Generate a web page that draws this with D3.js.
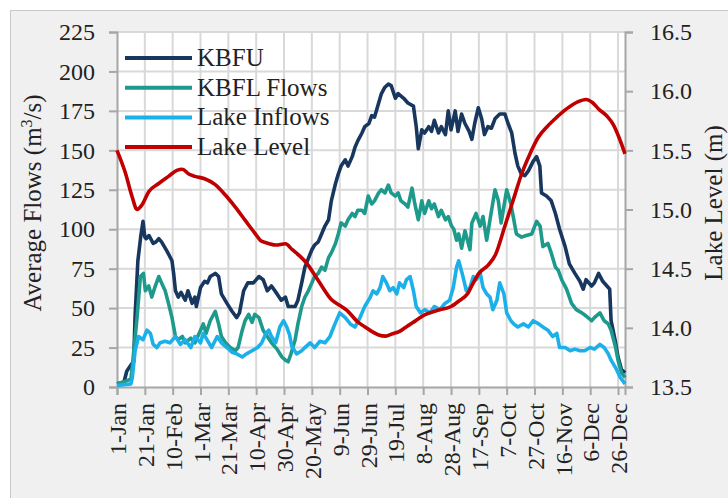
<!DOCTYPE html>
<html><head><meta charset="utf-8">
<script src="https://cdn.jsdelivr.net/npm/d3@7"></script>
<style>html,body{margin:0;padding:0;background:#fff;}svg{display:block;}text{font-family:"Liberation Serif","Times New Roman",serif;fill:#222;}</style>
</head><body><svg id="c" width="728" height="498"></svg>
<script>
const tickDays = [0,20,40,60,80,100,120,140,160,180,200,220,240,260,280,300,320,340,360];
const tickLabels = ["1-Jan","21-Jan","10-Feb","1-Mar","21-Mar","10-Apr","30-Apr","20-May","9-Jun","29-Jun","19-Jul","8-Aug","28-Aug","17-Sep","7-Oct","27-Oct","16-Nov","6-Dec","26-Dec"];
const flowTicks = [0,25,50,75,100,125,150,175,200,225];
const levelTicks = [13.5,14.0,14.5,15.0,15.5,16.0,16.5];
const seriesNames = ["KBFU","KBFL Flows","Lake Inflows","Lake Level"];

const kbfu = [[0,2],[5,3],[7,10],[10,14],[12,16],[13,45],[15,80],[17,95],[18.7,105],[20,95],[21,94],[23,96],[26,91],[28,92],[30,94],[32,92],[34,89],[36,86],[39.5,80],[40.7,72],[42,61],[44,57],[46,60],[49,55],[51,61],[54,53],[56,57],[57,51],[60,63],[63,67],[65,66],[67,70],[70.6,72],[73,70],[75,59],[79,53],[82.6,48],[86,44],[88,47],[91,61],[94,66],[98,66],[102,70],[105,68],[108,61],[111,64],[115,59],[118,55],[121,57],[123,51],[128,51],[130,55],[132.7,66],[135,76],[140,87],[142,90],[144.6,92],[147,97],[149.4,102],[152,106],[154,118],[157,129],[159,135],[161,140],[164,144],[166,140],[169,146],[171,152],[173,156],[176,161],[178,165],[181,167],[183,172],[185,171],[188,180],[190,186],[192.5,190],[195,192],[197,191],[200,183],[202,186],[206,183],[209,180],[213,178],[215,165],[216.5,151],[219,163],[221,161],[224,165],[226,162],[228,169],[231,161],[233,165],[236,160],[238,175],[240,163],[243,175],[245,162],[247.6,173],[250,167],[253,162],[255,157],[257,167],[259.6,177],[262,170],[264,160],[266.5,165],[269,164],[271.6,170],[275,173],[278.7,173],[281,167],[283.6,161],[286,148],[288,140],[290.5,135],[293,134],[295.6,137],[299,143],[301.5,146],[303.8,140],[305,123],[308.6,121],[312,118],[315,110],[318,100],[322,89],[325,78],[329,72],[332.6,67],[335,62],[337,68],[341,64],[343,66],[346,72],[349,67],[352,64],[354,62],[355,42],[357.8,30],[360,19],[362.5,11],[365,9]];

const kbfl = [[0,2],[7,4],[10,5],[11,13],[14.4,44],[16.8,70],[19,72],[20.4,61],[22.8,64],[25,57],[27.5,64],[30,70],[32,66],[34.6,61],[37,53],[39.5,44],[42,32],[44,30],[47,32],[49,28],[53,31],[56,28],[60,36],[62,40],[64,34],[67,42],[70.6,48],[73,40],[75,32],[78,28],[81.4,25],[85,23],[87,25],[90,36],[92,42],[94.6,46],[97,41],[99,46],[102,44],[105,36],[108,32],[111,28],[115,24],[118.5,19],[121,17],[123,16],[125,21],[128,30],[130,40],[132.7,51],[135,57],[137.5,61],[140,66],[142,70],[144.6,72],[147,76],[149.4,74],[152,82],[154,85],[157,91],[159,97],[161,104],[164,102],[166,106],[169,110],[171,108],[173,112],[176,112],[178,110],[180.5,121],[183,116],[185,118],[188,123],[190,125],[192.5,123],[195,128],[197,123],[200,121],[202,123],[204,118],[207,116],[209,114],[212,126],[214,116],[216.5,106],[219,118],[221,110],[224,118],[226,113],[228,116],[231,108],[233,112],[236,106],[238,108],[240.4,102],[242,100],[244,93],[245.5,97],[247.6,88],[250,99],[253.6,87],[255,104],[258,110],[261,102],[263,108],[265.6,93],[268,106],[271.6,125],[274,118],[276,104],[280,125],[283,116],[284.7,108],[287,97],[290.7,95],[294,96],[298,97],[301.5,105],[304,102],[306,89],[309.6,91],[312,85],[315,76],[317,74],[319.5,68],[323,62],[326.6,53],[330,49],[334,47],[337,45],[341,42],[343,44],[347,47],[350,42],[353,40],[355,36],[358,26],[360,17],[362.5,9],[365,6]];

const inflows = [[0,1],[10,2],[11,6],[13,23],[15.5,32],[18.7,30],[21.5,36],[24,34],[26,27],[28.7,25],[31,28],[34.6,29],[38,28],[42,32],[45.5,27],[49,30],[53,25],[56,32],[60,28],[62,34],[66,28],[68,25],[72,32],[75,28],[79,25],[82.6,22],[86,21],[90,19],[93,21],[97,23],[101,25],[104,28],[107,34],[109,36],[111,32],[114,28],[117,38],[119.7,42],[122,38],[124,33],[125.5,26],[129,21],[132.7,23],[135,25],[138.7,28],[142,25],[145.8,29],[149.4,28],[153,32],[156.6,40],[160,47],[164,44],[167.6,40],[171,38],[174.6,44],[178,51],[182,57],[184,61],[186.6,59],[189,63],[191,70],[193.6,66],[196,61],[198.5,63],[201,59],[203,66],[206,63],[208,68],[210.6,70],[213,61],[215,51],[218,47],[221,49],[225,47],[228,51],[232,49],[235.6,53],[239,55],[241.6,63],[244,76],[245.5,80],[248,72],[251,61],[253.6,63],[256,70],[258,68],[261,72],[263,63],[265.6,59],[268,57],[270,49],[273,55],[275,66],[278,59],[280,47],[283,42],[285,40],[288,38],[292,40],[295.6,38],[299,42],[303,40],[306,38],[309.6,36],[313,32],[316,34],[318,25],[322,25],[325.6,23],[329,24],[332.6,23],[336,23],[340,25],[343,24],[347,27],[350,25],[353,21],[355,17],[359,11],[361.6,6],[365,2]];

const lakeLevel = [[0,15.50],[6,15.31],[10.8,15.11],[14.4,15.0],[18,15.04],[22.8,15.15],[30,15.22],[37,15.28],[43,15.33],[47,15.34],[51.5,15.30],[56,15.28],[63,15.26],[70.6,15.21],[78,15.12],[85,15.02],[92,14.91],[99,14.80],[103,14.74],[107,14.72],[114,14.70],[121,14.71],[126,14.66],[131,14.61],[136,14.55],[144.6,14.40],[154,14.24],[160,14.19],[165,14.15],[173,14.05],[178,14.01],[183,13.97],[188,13.94],[193,13.93],[198,13.95],[203,13.97],[208,14.01],[212,14.04],[221,14.11],[231,14.15],[240,14.18],[246,14.23],[252,14.29],[256,14.38],[260,14.46],[266.7,14.53],[272,14.62],[278.7,14.86],[284.7,15.08],[290.7,15.30],[296.7,15.47],[302.7,15.61],[309,15.70],[316,15.78],[323,15.85],[331,15.91],[337,15.93],[342,15.90],[346,15.85],[352,15.79],[356.5,15.72],[361,15.60],[365,15.47]];

const colors = ["#17375e","#1e9a8c","#1cb0ea","#c00000"];

const svg = d3.select("#c");
const L = 117, R = 625, T = 32, B = 387;

svg.append("rect").attr("x",10.5).attr("y",10.5).attr("width",730).attr("height",500)
  .attr("fill","#f0f0f0").attr("stroke","#c8c8c8").attr("stroke-width",1);
svg.append("rect").attr("x",L).attr("y",T).attr("width",R-L).attr("height",B-T).attr("fill","#fff");

const x = d3.scaleLinear().domain([0,365]).range([L,R]);
const y = d3.scaleLinear().domain([0,225]).range([B,T]);
const y2 = d3.scaleLinear().domain([13.5,16.5]).range([B,T]);

const grid = svg.append("g");
grid.selectAll("line.h").data(flowTicks.slice(1)).join("line")
  .attr("x1",L).attr("x2",R).attr("y1",d=>y(d)).attr("y2",d=>y(d))
  .attr("stroke","#d9d9d9").attr("stroke-width",2);
grid.selectAll("line.v").data(tickDays.slice(1)).join("line")
  .attr("x1",d=>x(d)).attr("x2",d=>x(d)).attr("y1",T).attr("y2",B)
  .attr("stroke","#d9d9d9").attr("stroke-width",2);

// axes
const axisColor = "#a6a6a6";
const gl = svg.append("g").attr("transform",`translate(${L},0)`)
  .call(d3.axisLeft(y).tickValues(flowTicks).tickSize(8).tickPadding(14));
const gr = svg.append("g").attr("transform",`translate(${R},0)`)
  .call(d3.axisRight(y2).tickValues(levelTicks).tickSize(8).tickPadding(17).tickFormat(d3.format(".1f")));
const gb = svg.append("g").attr("transform",`translate(0,${B})`)
  .call(d3.axisBottom(x).tickValues(tickDays).tickSize(8).tickFormat((d,i)=>tickLabels[i]));
[gl,gr,gb].forEach(g=>{
  g.select(".domain").attr("stroke",axisColor).attr("stroke-width",2);
  g.selectAll(".tick line").attr("stroke",axisColor).attr("stroke-width",2);
  g.selectAll("text").attr("font-family","Liberation Serif").attr("font-size",24).attr("fill","#222");
});
gb.selectAll("text").attr("transform","rotate(-90)").attr("text-anchor","end")
  .attr("x",-16).attr("y",0).attr("dy","0.36em");

// lines
const line = d3.line().x(d=>x(d[0])).y(d=>y(d[1]));
const lineL = d3.line().x(d=>x(d[0])).y(d=>y2(d[1])).curve(d3.curveMonotoneX);
const plot = svg.append("g");
[[kbfu,0],[kbfl,1],[inflows,2]].forEach(([data,i])=>{
  plot.append("path").datum(data).attr("d",line).attr("fill","none")
    .attr("stroke",colors[i]).attr("stroke-width",3.6).attr("stroke-linejoin","round");
});
plot.append("path").datum(lakeLevel).attr("d",lineL).attr("fill","none")
  .attr("stroke",colors[3]).attr("stroke-width",3.6);

// legend
const leg = svg.append("g");
seriesNames.forEach((n,i)=>{
  const yy = 58 + i*29.7;
  leg.append("line").attr("x1",125).attr("x2",192).attr("y1",yy).attr("y2",yy)
    .attr("stroke",colors[i]).attr("stroke-width",4);
  leg.append("text").attr("x",197).attr("y",yy+8).attr("font-size",25).text(n);
});

// axis titles
const t1 = svg.append("text").attr("transform","translate(41,203) rotate(-90)")
  .attr("text-anchor","middle").attr("font-size",25);
t1.append("tspan").text("Average Flows (m");
t1.append("tspan").attr("font-size",16).attr("dy",-9).text("3");
t1.append("tspan").attr("dy",9).text("/s)");
svg.append("text").attr("transform","translate(722,203) rotate(-90)")
  .attr("text-anchor","middle").attr("font-size",25).text("Lake Level (m)");
</script></body></html>
